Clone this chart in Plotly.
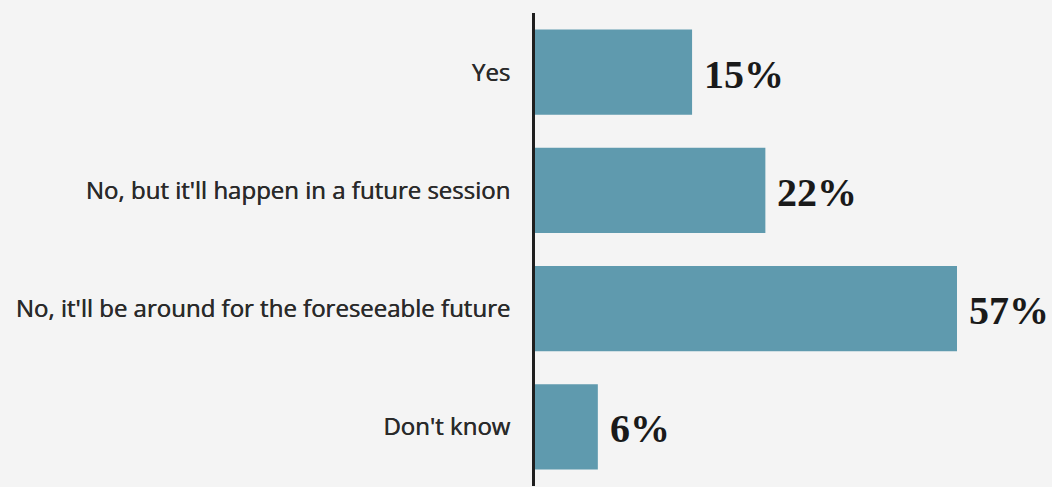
import plotly.graph_objects as go

categories = ["Yes", "No, but it'll happen in a future session",
              "No, it'll be around for the foreseeable future", "Don't know"]
values = [15, 22, 57, 6]
value_labels = ["15%", "22%", "57%", "6%"]

X_MAX = 40.3  # visible axis range; larger bars are clipped at the edge

fig = go.Figure()
fig.add_trace(go.Bar(
    y=categories, x=values, orientation="h",
    marker=dict(color="#5f9aae", line=dict(width=0)),
    width=0.72, hoverinfo="skip",
))

for cat, v, lab in zip(categories, values, value_labels):
    fig.add_annotation(
        x=min(v, X_MAX), y=cat, text=lab, showarrow=False,
        xanchor="left", yanchor="middle", xshift=10, yshift=-2,
        font=dict(family="Liberation Serif", size=40, color="#1a1a1a", weight="bold"),
    )

fig.update_layout(
    width=1052, height=487,
    margin=dict(l=535, r=95, t=13, b=1),
    paper_bgcolor="#f4f4f4", plot_bgcolor="#f4f4f4",
    showlegend=False,
    xaxis=dict(range=[0, X_MAX], visible=False, fixedrange=True),
    yaxis=dict(
        categoryorder="array", categoryarray=categories, autorange="reversed",
        showline=True, linecolor="#1e1e1e", linewidth=3,
        showgrid=False, zeroline=False, ticks="",
        ticklabelstandoff=17,
        tickfont=dict(family="Open Sans", size=24, color="#2a2a2a", weight=500,
                      shadow="0.5px 0 0 #2a2a2a"),
    ),
)

fig.write_html("out.html", config={"displayModeBar": False},
               post_script="document.body.style.margin='0';document.body.style.background='#f4f4f4';window.dispatchEvent(new Event('resize'));")
